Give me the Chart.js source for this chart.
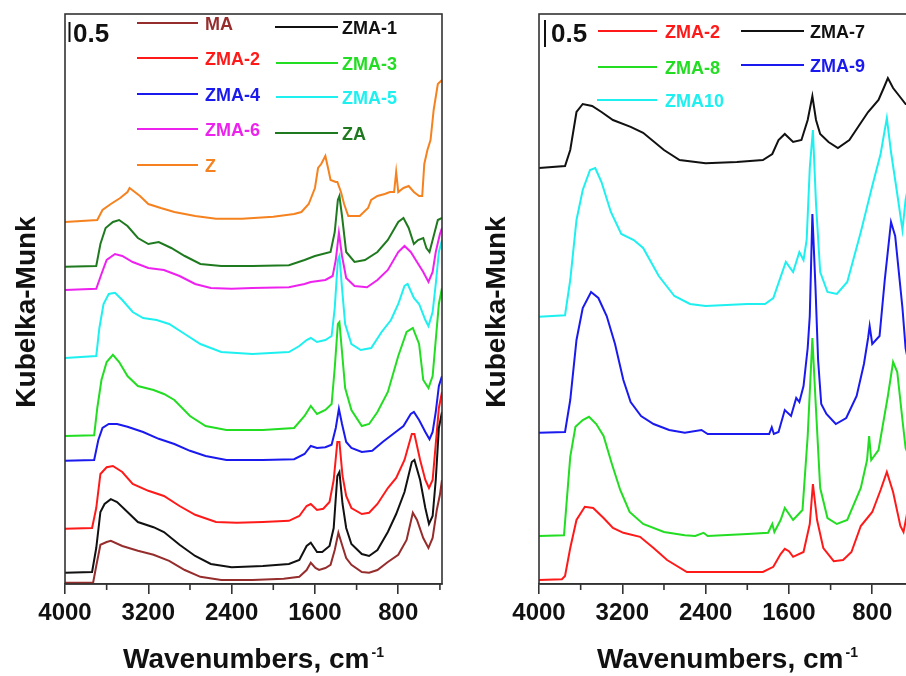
<!DOCTYPE html>
<html><head><meta charset="utf-8">
<script src="https://cdn.jsdelivr.net/npm/chart.js@4/dist/chart.umd.min.js"></script>
<style>
html,body{margin:0;padding:0;background:#fff;overflow:hidden;width:906px;height:676px;position:relative;}
#wrapL{position:absolute;left:0;top:0;width:460px;height:676px;}
#wrapR{position:absolute;left:476px;top:0;width:460px;height:676px;}
</style></head><body>
<div id="wrapL"><canvas id="cL" width="460" height="676"></canvas></div>
<div id="wrapR"><canvas id="cR" width="460" height="676"></canvas></div>
<script>
// ---------- DATA (wavenumber cm-1, Kubelka-Munk, offset as plotted) ----------
const MAJOR_TICKS = [4000, 3200, 2400, 1600, 800];
const MINOR_TICKS = [3600, 2800, 2000, 1200, 400];

const MA = [[4000,0.03],[3730,0.03],[3700,0.45],[3660,0.98],[3600,1.05],[3560,1.08],[3450,0.95],[3300,0.83],[3150,0.73],[3000,0.58],[2850,0.35],[2700,0.18],[2500,0.1],[2200,0.1],[1900,0.13],[1750,0.18],[1680,0.35],[1640,0.53],[1595,0.4],[1560,0.35],[1500,0.4],[1450,0.48],[1410,0.85],[1375,1.28],[1340,0.98],[1300,0.65],[1250,0.48],[1150,0.3],[1080,0.28],[1000,0.35],[900,0.55],[800,0.73],[720,1.1],[660,1.78],[620,1.6],[560,1.15],[510,0.9],[470,1.15],[430,1.85],[400,2.23],[380,2.6]];
const ZMA1 = [[4000,0.28],[3740,0.3],[3700,0.9],[3660,1.8],[3620,2.0],[3560,2.12],[3500,2.05],[3400,1.8],[3300,1.55],[3150,1.42],[3050,1.3],[2900,0.98],[2750,0.7],[2600,0.5],[2400,0.42],[2100,0.45],[1850,0.5],[1750,0.6],[1680,0.95],[1640,1.03],[1580,0.8],[1530,0.8],[1460,0.95],[1420,1.4],[1385,2.7],[1365,2.8],[1335,2.0],[1300,1.4],[1250,1.0],[1150,0.75],[1080,0.7],[1000,0.85],[900,1.3],[820,1.75],[740,2.3],[670,3.05],[645,3.1],[590,2.6],[540,1.9],[505,1.5],[470,1.7],[440,2.6],[410,3.9],[380,4.3]];
const ZMA2L = [[4000,1.38],[3740,1.4],[3700,1.9],[3660,2.75],[3600,2.92],[3540,2.95],[3450,2.8],[3350,2.5],[3200,2.33],[3050,2.2],[2900,1.95],[2750,1.73],[2550,1.55],[2350,1.53],[2100,1.55],[1850,1.58],[1750,1.7],[1680,1.95],[1640,2.0],[1580,1.85],[1520,1.88],[1460,2.05],[1420,2.6],[1385,3.55],[1365,3.55],[1335,2.7],[1300,2.2],[1250,1.9],[1150,1.75],[1080,1.78],[1000,2.0],[900,2.4],[820,2.65],[740,3.1],[670,3.75],[645,3.75],[590,3.1],[540,2.6],[505,2.4],[470,2.6],[440,3.5],[410,4.4],[380,4.8]];
const ZMA3 = [[4000,3.7],[3720,3.72],[3690,4.4],[3650,5.1],[3600,5.55],[3540,5.73],[3480,5.55],[3400,5.2],[3300,4.95],[3150,4.85],[3050,4.75],[2950,4.6],[2800,4.2],[2650,3.95],[2450,3.85],[2100,3.85],[1800,3.9],[1700,4.2],[1640,4.45],[1580,4.25],[1500,4.35],[1440,4.5],[1410,5.4],[1380,6.5],[1365,6.55],[1340,5.8],[1310,4.9],[1250,4.35],[1150,3.95],[1080,4.0],[1000,4.3],[900,4.8],[800,5.7],[720,6.3],[660,6.4],[600,6.0],[560,5.1],[510,4.9],[470,5.2],[440,6.1],[410,7.0],[380,7.4]];
const ZMA4 = [[4000,3.08],[3720,3.1],[3680,3.6],[3640,3.9],[3580,4.0],[3500,4.0],[3400,3.93],[3250,3.8],[3100,3.63],[2950,3.5],[2800,3.33],[2650,3.2],[2450,3.1],[2100,3.1],[1800,3.12],[1700,3.25],[1640,3.45],[1580,3.4],[1500,3.42],[1440,3.48],[1400,3.9],[1370,4.38],[1340,4.0],[1300,3.55],[1250,3.4],[1150,3.3],[1050,3.33],[950,3.55],[850,3.75],[750,3.95],[680,4.25],[650,4.3],[600,4.1],[540,3.8],[500,3.62],[470,3.8],[440,4.3],[410,4.95],[380,5.2]];
const ZMA5 = [[4000,5.65],[3700,5.7],[3670,6.4],[3630,7.0],[3580,7.25],[3520,7.28],[3450,7.1],[3350,6.8],[3250,6.65],[3120,6.6],[3000,6.5],[2850,6.25],[2700,6.0],[2500,5.8],[2200,5.75],[1850,5.8],[1750,5.95],[1680,6.1],[1640,6.15],[1580,6.05],[1500,6.1],[1440,6.2],[1410,6.9],[1380,8.1],[1365,8.2],[1340,7.4],[1310,6.5],[1250,6.0],[1160,5.85],[1060,5.9],[960,6.3],[870,6.6],[800,7.0],[740,7.45],[710,7.5],[650,7.15],[600,7.0],[540,6.6],[510,6.45],[470,6.8],[440,7.5],[410,8.3],[380,8.6]];
const ZMA6 = [[4000,7.35],[3700,7.38],[3650,7.75],[3600,8.1],[3520,8.25],[3450,8.2],[3350,8.05],[3200,7.9],[3050,7.85],[2900,7.7],[2750,7.5],[2600,7.4],[2400,7.38],[2200,7.4],[1850,7.42],[1700,7.5],[1640,7.55],[1500,7.6],[1430,7.7],[1400,8.1],[1370,8.78],[1340,8.2],[1300,7.65],[1220,7.45],[1100,7.42],[1000,7.6],[900,7.85],[800,8.3],[740,8.45],[680,8.3],[620,8.05],[560,7.8],[510,7.55],[470,7.8],[440,8.3],[400,8.75],[380,8.9]];
const ZA = [[4000,7.93],[3700,7.95],[3660,8.5],[3610,8.9],[3540,9.05],[3480,9.1],[3400,8.95],[3300,8.65],[3200,8.5],[3100,8.55],[2980,8.4],[2850,8.2],[2700,8.0],[2500,7.95],[2200,7.95],[1850,7.97],[1700,8.1],[1600,8.2],[1450,8.3],[1410,8.8],[1380,9.6],[1365,9.7],[1340,9.2],[1300,8.3],[1220,8.05],[1120,8.1],[1000,8.3],[900,8.6],[800,9.05],[750,9.15],[700,8.9],[650,8.5],[610,8.6],[560,8.65],[530,8.4],[500,8.3],[460,8.7],[420,9.1],[380,9.15]];
const Z = [[4000,9.05],[3690,9.1],[3640,9.35],[3560,9.5],[3470,9.65],[3400,9.8],[3380,9.9],[3280,9.7],[3200,9.5],[3080,9.4],[2950,9.3],[2750,9.2],[2550,9.13],[2300,9.13],[2000,9.18],[1800,9.25],[1730,9.3],[1660,9.5],[1600,9.9],[1570,10.4],[1540,10.5],[1500,10.7],[1470,10.35],[1450,10.1],[1400,10.05],[1385,10.05],[1350,9.8],[1320,9.5],[1280,9.2],[1170,9.2],[1090,9.4],[1060,9.6],[1000,9.7],[930,9.75],[880,9.8],[840,9.8],[820,10.3],[800,9.8],[750,9.9],[700,9.95],[650,9.8],[600,9.7],[570,9.7],[550,10.5],[520,10.85],[490,11.1],[460,11.85],[420,12.5],[380,12.6]];

const ZMA2R = [[4000,0.1],[3780,0.12],[3750,0.2],[3700,0.9],[3640,1.6],[3560,1.93],[3480,1.9],[3380,1.65],[3290,1.4],[3190,1.28],[3030,1.18],[2900,0.9],[2770,0.6],[2580,0.3],[2200,0.3],[1850,0.3],[1750,0.43],[1680,0.75],[1640,0.88],[1600,0.82],[1560,0.68],[1460,0.8],[1400,1.5],[1370,2.5],[1330,1.6],[1270,0.9],[1170,0.57],[1080,0.6],[1000,0.8],[910,1.45],[800,1.8],[720,2.35],[660,2.8],[600,2.3],[530,1.45],[500,1.3],[470,1.7],[440,2.2]];
const ZMA7 = [[4000,10.4],[3750,10.45],[3700,10.85],[3640,11.8],[3580,12.0],[3490,11.95],[3400,11.8],[3290,11.6],[3120,11.43],[3000,11.28],[2800,10.85],[2650,10.6],[2400,10.52],[2100,10.55],[1850,10.6],[1760,10.75],[1700,11.1],[1640,11.25],[1560,11.05],[1480,11.1],[1420,11.6],[1375,12.2],[1340,11.6],[1300,11.25],[1220,11.05],[1130,10.9],[1020,11.1],[930,11.45],[840,11.8],[740,12.1],[690,12.4],[650,12.65],[600,12.4],[540,12.2],[480,12.0],[440,12.0]];
const ZMA8 = [[4000,1.2],[3760,1.22],[3700,3.18],[3650,3.93],[3580,4.1],[3520,4.18],[3450,4.0],[3380,3.7],[3300,3.0],[3220,2.35],[3130,1.8],[3000,1.5],[2800,1.3],[2600,1.22],[2500,1.2],[2420,1.28],[2380,1.2],[2000,1.25],[1800,1.28],[1760,1.5],[1740,1.3],[1680,1.6],[1640,1.9],[1560,1.6],[1470,1.85],[1420,3.7],[1375,6.15],[1345,4.6],[1300,2.4],[1230,1.65],[1140,1.5],[1040,1.6],[910,2.4],[850,3.1],[830,3.7],[810,3.1],[740,3.35],[650,4.7],[600,5.55],[560,5.3],[510,4.1],[480,3.4],[450,3.2]];
const ZMA9 = [[4000,3.78],[3750,3.8],[3700,4.6],[3640,6.1],[3580,6.9],[3500,7.3],[3430,7.15],[3350,6.7],[3270,6.0],[3190,5.1],[3120,4.55],[3020,4.2],[2900,4.0],[2750,3.85],[2600,3.78],[2440,3.85],[2380,3.75],[2000,3.75],[1790,3.75],[1765,3.92],[1745,3.75],[1700,3.8],[1640,4.35],[1580,4.2],[1530,4.65],[1500,4.55],[1460,4.95],[1420,5.9],[1400,6.7],[1375,9.25],[1345,7.4],[1320,5.6],[1290,4.5],[1240,4.25],[1150,4.0],[1050,4.15],[950,4.7],[880,5.5],[840,6.15],[825,6.45],[800,6.0],[730,6.2],[680,7.6],[620,9.05],[580,8.7],[510,6.9],[480,5.9],[450,5.5]];
const ZMA10 = [[4000,6.68],[3750,6.72],[3700,7.6],[3640,9.1],[3580,9.85],[3510,10.35],[3460,10.4],[3400,10.05],[3310,9.3],[3210,8.75],[3090,8.6],[3000,8.4],[2850,7.7],[2700,7.2],[2550,7.0],[2400,6.95],[2000,7.0],[1830,7.0],[1750,7.15],[1630,8.05],[1560,7.8],[1500,8.3],[1460,8.1],[1430,8.6],[1400,10.4],[1370,11.35],[1340,9.5],[1300,7.8],[1230,7.3],[1140,7.25],[1040,7.55],[910,8.8],[800,9.95],[720,10.75],[660,11.65],[620,10.8],[560,9.75],[510,8.85],[480,9.6],[450,10.0]];

const LEFT_SERIES  = [['MA',MA],['ZMA-1',ZMA1],['ZMA-2',ZMA2L],['ZMA-3',ZMA3],['ZMA-4',ZMA4],['ZMA-5',ZMA5],['ZMA-6',ZMA6],['ZA',ZA],['Z',Z]];
const RIGHT_SERIES = [['ZMA-2',ZMA2R],['ZMA-7',ZMA7],['ZMA-8',ZMA8],['ZMA-9',ZMA9],['ZMA10',ZMA10]];

// ---------- STYLE ----------
const COLORS = {'MA':'#962D2D','ZMA-1':'#111111','ZMA-2':'#FF1A1A','ZMA-3':'#22DD22','ZMA-4':'#1A1AEE','ZMA-5':'#1EF0F0','ZMA-6':'#EE22EE','ZA':'#1F7A1F','Z':'#F5821F','ZMA-7':'#111111','ZMA-8':'#22DD22','ZMA-9':'#1A1AEE','ZMA10':'#1EF0F0'};
const FONT = '"Liberation Sans", Arial, Helvetica, sans-serif';
const AXIS = '#333333';

// legend layout: [name, lineX1, lineX2, textX, y]
const LEFT_LEGEND = [
  ['MA',137,198,205,23],['ZMA-1',275,338,342,27],
  ['ZMA-2',137,198,205,58],['ZMA-3',276,338,342,63],
  ['ZMA-4',137,198,205,94],['ZMA-5',276,338,342,97],
  ['ZMA-6',137,198,205,129],['ZA',275,338,342,133],
  ['Z',137,198,205,165]];
const RIGHT_LEGEND = [
  ['ZMA-2',122,181,189,31],['ZMA-7',265,328,334,31],
  ['ZMA-8',122,181,189,67],['ZMA-9',265,328,334,65],
  ['ZMA10',121,181,189,100]];

function makePlugin(p){
  return {
    id:'panelDeco',
    afterDraw(chart){
      const ctx = chart.ctx, a = chart.chartArea, x = chart.scales.x;
      ctx.save();
      ctx.strokeStyle = AXIS; ctx.lineWidth = 1.6;
      ctx.strokeRect(a.left, a.top, a.right - a.left, a.bottom - a.top);
      ctx.beginPath();
      MINOR_TICKS.forEach(v => {
        const px = x.getPixelForValue(v);
        if (px >= a.left - 0.5 && px <= a.right + 0.5) { ctx.moveTo(px, a.bottom); ctx.lineTo(px, a.bottom + 6); }
      });
      ctx.stroke();
      // scale bar
      ctx.strokeStyle = '#111'; ctx.lineWidth = 2;
      ctx.beginPath(); ctx.moveTo(p.barX, p.barY1); ctx.lineTo(p.barX, p.barY2); ctx.stroke();
      ctx.fillStyle = '#111'; ctx.font = 'bold 26px ' + FONT;
      ctx.textAlign = 'left'; ctx.textBaseline = 'alphabetic';
      ctx.fillText('0.5', p.barTextX, 42);
      // legend
      ctx.font = 'bold 18px ' + FONT; ctx.textBaseline = 'middle';
      p.legend.forEach(([name, x1, x2, tx, y]) => {
        ctx.strokeStyle = COLORS[name]; ctx.lineWidth = 2;
        ctx.beginPath(); ctx.moveTo(x1, y); ctx.lineTo(x2, y); ctx.stroke();
        ctx.fillStyle = COLORS[name]; ctx.fillText(name, tx, y + 2);
      });
      // x title with superscript
      ctx.fillStyle = '#111'; ctx.textBaseline = 'alphabetic'; ctx.textAlign = 'left';
      ctx.font = 'bold 28px ' + FONT;
      const main = 'Wavenumbers, cm';
      const w1 = ctx.measureText(main).width;
      ctx.font = 'bold 14px ' + FONT;
      const w2 = ctx.measureText('-1').width;
      const cx = (a.left + a.right) / 2;
      const sx = cx - (w1 + 2 + w2) / 2;
      ctx.font = 'bold 28px ' + FONT;
      ctx.fillText(main, sx, 668);
      ctx.font = 'bold 14px ' + FONT;
      ctx.fillText('-1', sx + w1 + 2, 657);
      // y title
      ctx.font = 'bold 28px ' + FONT;
      ctx.translate(p.yTitleX, 312); ctx.rotate(-Math.PI / 2);
      ctx.textAlign = 'center';
      ctx.fillText('Kubelka-Munk', 0, 0);
      ctx.restore();
    }
  };
}

function makeChart(id, series, pad, deco){
  return new Chart(document.getElementById(id), {
    type: 'line',
    data: {
      datasets: series.map(([name, pts]) => ({
        label: name,
        data: pts.map(([x, y]) => ({x, y})),
        borderColor: COLORS[name], borderWidth: 2, pointRadius: 0, tension: 0, fill: false
      }))
    },
    options: {
      responsive: false, animation: false, events: [],
      layout: {padding: pad},
      plugins: {legend: {display: false}, tooltip: {enabled: false}},
      scales: {
        x: {
          type: 'linear', reverse: true, min: 380, max: 4000,
          afterBuildTicks: s => { s.ticks = MAJOR_TICKS.map(v => ({value: v})); },
          afterFit: s => { s.height = 92; },
          grid: {drawOnChartArea: false, drawTicks: true, tickLength: 10, color: AXIS, lineWidth: 1.6},
          border: {display: true, color: AXIS, width: 1.6},
          ticks: {autoSkip: false, maxRotation: 0, padding: 7, color: '#111',
                  callback: v => String(v),
                  font: {family: FONT, size: 24, weight: 'bold', lineHeight: 1}}
        },
        y: {display: false, min: 0, max: 14.25}
      }
    },
    plugins: [makePlugin(deco)]
  });
}

makeChart('cL', LEFT_SERIES, {left: 65, top: 14, right: 18, bottom: 0},
  {legend: LEFT_LEGEND, barX: 69.5, barY1: 22, barY2: 42, barTextX: 73, yTitleX: 35});
makeChart('cR', RIGHT_SERIES, {left: 63, top: 14, right: 20, bottom: 0},
  {legend: RIGHT_LEGEND, barX: 69, barY1: 20, barY2: 47, barTextX: 75, yTitleX: 29});
</script>
</body></html>
